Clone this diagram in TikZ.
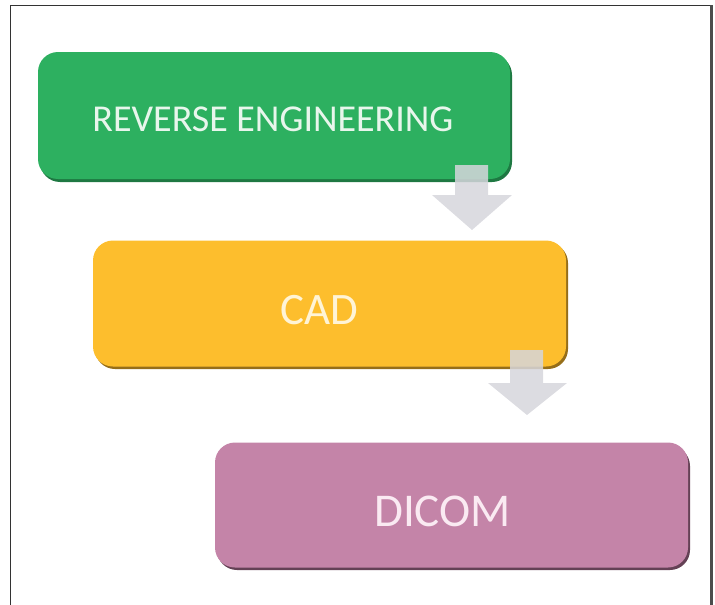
\documentclass[tikz,border=0pt]{standalone}
\usepackage{fontspec}
\setmainfont{Carlito}
\begin{document}
\begin{tikzpicture}[x=1pt,y=-1pt,
  stepbox/.style={rounded corners=20pt, minimum width=472pt, minimum height=127pt, inner sep=0pt},
  steptext/.style={inner sep=0pt, anchor=center}
]
\useasboundingbox (0,0) rectangle (715,605);
\definecolor{grn}{RGB}{45,176,96}
\definecolor{grnd}{RGB}{30,120,66}
\definecolor{ylw}{RGB}{253,190,45}
\definecolor{ylwd}{RGB}{150,110,25}
\definecolor{pnk}{RGB}{196,132,168}
\definecolor{pnkd}{RGB}{100,65,85}
\definecolor{arr}{RGB}{214,214,220}
% frame
\draw[line width=1.2pt, black!80] (10,5.5) -- (711,5.5);
\draw[line width=1.2pt, black!80] (10.5,5) -- (10.5,610);
\draw[line width=2.2pt, black!70] (711.5,5) -- (711.5,610);
% shadows
\fill[grnd, rounded corners=20pt] (40,55) rectangle (512,182);
\fill[ylwd, rounded corners=20pt] (95,243) rectangle (568,369);
\fill[pnkd, rounded corners=20pt] (217,446) rectangle (690,570);
% boxes
\node[stepbox, fill=grn] (re) at (274,115.5) {};
\node[stepbox, fill=ylw, minimum width=473pt, minimum height=126pt] (cad) at (329.5,303.5) {};
\node[stepbox, fill=pnk, minimum width=473pt, minimum height=125pt] (dicom) at (451.5,505) {};
% texts
\node[steptext, text={rgb,255:red,232;green,246;blue,236}, font=\fontsize{38}{40}\selectfont] (ret) at ([xshift=-1pt,yshift=-4pt]re.center) {REVERSE ENGINEERING};
\node[steptext, text={rgb,255:red,255;green,244;blue,214}, font=\fontsize{45}{47}\selectfont] (cadt) at ([xshift=-10pt,yshift=-7pt]cad.center) {CAD};
\node[steptext, text={rgb,255:red,250;green,234;blue,242}, font=\fontsize{47}{49}\selectfont] (dicomt) at ([xshift=-9pt,yshift=-6pt]dicom.center) {DICOM};
% block arrows
\fill[arr, fill opacity=0.85] (455,165) -- (488,165) -- (488,195) -- (512,195) -- (472,230) -- (432,195) -- (455,195) -- cycle;
\fill[arr, fill opacity=0.85] (510,350) -- (543,350) -- (543,383) -- (567,383) -- (527,415) -- (488,383) -- (510,383) -- cycle;
\end{tikzpicture}
\end{document}
